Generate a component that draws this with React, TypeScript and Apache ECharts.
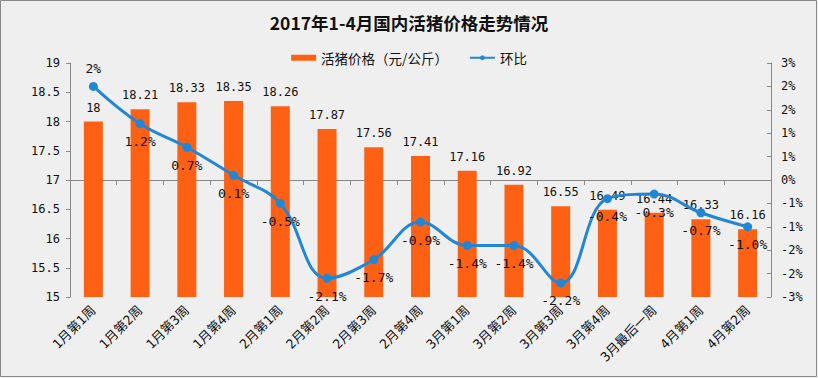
import React, { useEffect, useRef } from "react";
import * as echarts from "echarts";

const categories = [
  "1月第1周", "1月第2周", "1月第3周", "1月第4周",
  "2月第1周", "2月第2周", "2月第3周", "2月第4周",
  "3月第1周", "3月第2周", "3月第3周", "3月第4周",
  "3月最后一周", "4月第1周", "4月第2周",
];
const priceValues = [18, 18.21, 18.33, 18.35, 18.26, 17.87, 17.56, 17.41, 17.16, 16.92, 16.55, 16.49, 16.44, 16.33, 16.16];
const momValues = [2, 1.2, 0.7, 0.1, -0.5, -2.1, -1.7, -0.9, -1.4, -1.4, -2.2, -0.4, -0.3, -0.7, -1.0];
const momLabels = ["2%", "1.2%", "0.7%", "0.1%", "-0.5%", "-2.1%", "-1.7%", "-0.9%", "-1.4%", "-1.4%", "-2.2%", "-0.4%", "-0.3%", "-0.7%", "-1.0%"];

const TITLE = "2017年1-4月国内活猪价格走势情况";
const BAR_NAME = "活猪价格（元/公斤）";
const LINE_NAME = "环比";

const MONO = "'DejaVu Sans Mono', 'Noto Sans CJK SC', monospace";
const CJK = "'Noto Sans CJK SC', sans-serif";

export default function App() {
  const ref = useRef<HTMLDivElement>(null);
  useEffect(() => {
    document.body.style.margin = "0";
    const chart = echarts.init(ref.current!, null, { renderer: "svg" });
    chart.setOption({
      animation: false,
      backgroundColor: "#efefef",
      title: {
        text: TITLE,
        left: "center",
        top: 9,
        textStyle: { fontFamily: CJK, fontSize: 17.5, fontWeight: "bold", color: "#111" },
      },
      legend: {
        top: 46,
        left: "center",
        itemGap: 21,
        textStyle: { fontFamily: CJK, fontSize: 13.5, color: "#111" },
        data: [
          { name: BAR_NAME, icon: "rect", itemStyle: { color: "#fe6014" } },
          { name: LINE_NAME },
        ],
        itemWidth: 25,
        itemHeight: 6,
      },
      grid: { left: 70, right: 47, top: 63, bottom: 81 },
      xAxis: {
        type: "category",
        data: categories,
        boundaryGap: true,
        axisLine: { lineStyle: { color: "#888" } },
        axisTick: { show: true, interval: 0, alignWithLabel: false, lineStyle: { color: "#888" }, length: 5 },
        axisLabel: { interval: 0, rotate: 45, fontFamily: MONO, fontSize: 13, color: "#111", margin: 11 },
      },
      yAxis: [
        {
          type: "value",
          min: 15,
          max: 19,
          interval: 0.5,
          splitLine: { show: false },
          axisLine: { show: true, lineStyle: { color: "#888" } },
          axisTick: { show: true, lineStyle: { color: "#888" }, length: 4 },
          axisLabel: { fontFamily: MONO, fontSize: 12, color: "#111", margin: 10 },
        },
        {
          type: "value",
          min: -2.5,
          max: 2.5,
          interval: 0.5,
          position: "right",
          splitLine: { show: false },
          axisLine: { show: true, lineStyle: { color: "#888" } },
          axisTick: { show: true, inside: true, lineStyle: { color: "#888" }, length: 4 },
          axisLabel: {
            fontFamily: MONO,
            fontSize: 12,
            color: "#111",
            margin: 10,
            formatter: (v: number) => (v < 0 ? "-" : "") + Math.round(Math.abs(v)) + "%",
          },
        },
      ],
      series: [
        {
          name: BAR_NAME,
          type: "bar",
          data: priceValues,
          barWidth: 19,
          itemStyle: { color: "#fe6014" },
          label: {
            show: true,
            position: "top",
            distance: 8,
            fontFamily: MONO,
            fontSize: 12,
            color: "#111",
          },
        },
        {
          name: LINE_NAME,
          type: "line",
          yAxisIndex: 1,
          smooth: 0.4,
          data: momValues.map((v, i) => ({
            value: v,
            label: i === 0 ? { position: "top" } : undefined,
          })),
          symbol: "circle",
          symbolSize: 9,
          lineStyle: { color: "#2187d5", width: 3 },
          itemStyle: { color: "#2187d5" },
          label: {
            show: true,
            position: "bottom",
            distance: 7,
            fontFamily: MONO,
            fontSize: 13,
            color: "#111",
            formatter: (p: any) => momLabels[p.dataIndex],
          },
          z: 5,
        },
      ],
      graphic: [
        {
          type: "rect",
          shape: { x: 0.5, y: 0.5, width: 816, height: 376 },
          style: { fill: "none", stroke: "#888", lineWidth: 1 },
          silent: true,
        },
      ],
    });
    return () => chart.dispose();
  }, []);
  return <div ref={ref} style={{ width: 818, height: 378 }} />;
}
